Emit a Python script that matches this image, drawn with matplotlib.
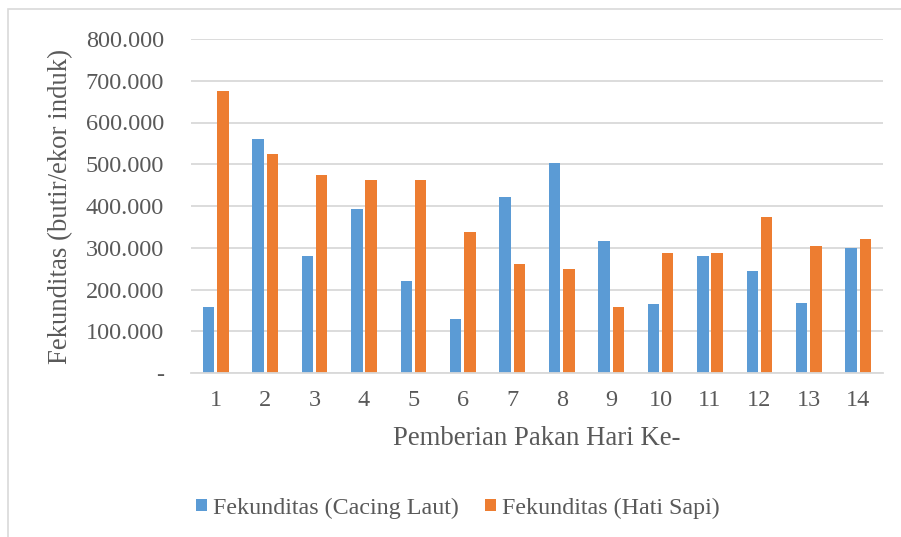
import numpy as np
import matplotlib.pyplot as plt
from matplotlib.patches import Rectangle
from matplotlib.ticker import FuncFormatter

days = [str(i) for i in range(1, 15)]
cacing_laut = [158000, 561000, 280000, 392000, 221000, 129000, 422000,
               503000, 316000, 166000, 280000, 244000, 168000, 300000]
hati_sapi = [675000, 525000, 475000, 462000, 462000, 337000, 262000,
             249000, 158000, 287000, 287000, 374000, 304000, 320000]

plt.rcParams['font.family'] = ['Liberation Serif', 'DejaVu Serif']
txt = '#595959'

fig = plt.figure(figsize=(9.01, 5.37), dpi=100)
ax = fig.add_axes([191 / 901, 1 - 373 / 537, (883 - 191) / 901, (373 - 39) / 537])

# chart border (only left and top visible in the crop)
fig.patches.append(Rectangle((8 / 901, -0.1), 1.2, 1 - 9 / 537 + 0.1,
                             transform=fig.transFigure, fill=False,
                             edgecolor='#d9d9d9', linewidth=1.2))

x = np.arange(len(days))
w = 0.23
ax.bar(x - 0.145, cacing_laut, w, color='#5b9bd5', label='Fekunditas (Cacing Laut)')
ax.bar(x + 0.145, hati_sapi, w, color='#ed7d31', label='Fekunditas (Hati Sapi)')

ax.set_xlim(-0.5, len(days) - 0.5)
ax.set_ylim(0, 800000)
ax.set_yticks(np.arange(0, 800001, 100000))
ax.yaxis.set_major_formatter(FuncFormatter(
    lambda v, p: '-' if v == 0 else f'{int(v):,}'.replace(',', '.')))
ax.set_xticks(x)
ax.set_xticklabels(days)
ax.grid(axis='y', color='#d9d9d9', linewidth=1.3)
ax.set_axisbelow(True)
for s in ['top', 'right', 'left']:
    ax.spines[s].set_visible(False)
ax.spines['bottom'].set_color('#d9d9d9')
ax.spines['bottom'].set_linewidth(1.3)
ax.tick_params(length=0, labelsize=17.5, colors=txt)
ax.tick_params(axis='y', pad=19.5)
ax.tick_params(axis='x', pad=12)

ax.set_xlabel('Pemberian Pakan Hari Ke-', fontsize=19.3, color=txt, labelpad=11)
ax.set_ylabel('Fekunditas (butir/ekor induk)', fontsize=19.3, color=txt, labelpad=9)

fig.legend(loc='center', bbox_to_anchor=(458 / 901, 1 - 508 / 537), ncol=2, frameon=False,
           fontsize=17.3, labelcolor=txt, handlelength=0.45, handleheight=0.45,
           handletextpad=0.25, columnspacing=1.1)

fig.savefig('out.png', dpi=100)
